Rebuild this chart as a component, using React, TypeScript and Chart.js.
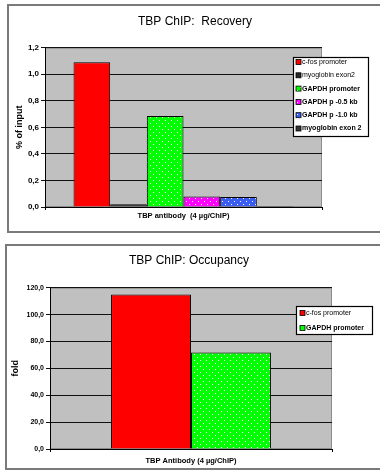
import React, { useEffect, useRef } from "react";
import { Chart, registerables } from "chart.js";

Chart.register(...registerables);

// ---------- data ----------
const recoveryCategories = ["TBP antibody  (4 µg/ChIP)"];
const recoverySeries = [
  "c-fos promoter",
  "myoglobin exon2",
  "GAPDH promoter",
  "GAPDH p -0.5 kb",
  "GAPDH p -1.0 kb",
  "myoglobin exon 2",
];
const cfosRecovery = [1.09];
const myoExon2Recovery = [0.02];
const gapdhPromoterRecovery = [0.685];
const gapdh05Recovery = [0.08];
const gapdh10Recovery = [0.075];
const myoExon2bRecovery = [0.008];
const recoveryTicks = [0, 0.2, 0.4, 0.6, 0.8, 1.0, 1.2];

const occupancyCategories = ["TBP Antibody (4 µg/ChIP)"];
const occupancySeries = ["c-fos promoter", "GAPDH promoter"];
const cfosOccupancy = [115];
const gapdhOccupancy = [71.7];
const occupancyTicks = [0, 20, 40, 60, 80, 100, 120];

// ---------- helpers ----------
const FONT = "'Liberation Sans', Arial, sans-serif";

function dotPattern(bg: string, dot: string) {
  const c = document.createElement("canvas");
  c.width = 6;
  c.height = 6;
  const x = c.getContext("2d")!;
  x.fillStyle = bg;
  x.fillRect(0, 0, 6, 6);
  x.fillStyle = dot;
  x.fillRect(1, 1, 1, 1);
  x.fillRect(4, 4, 1, 1);
  return x.createPattern(c, "repeat")!;
}

const commaFmt = (v: any) => Number(v).toFixed(1).replace(".", ",");

const plotBg = {
  id: "plotBg",
  beforeDraw(chart: any) {
    const { ctx, chartArea: a } = chart;
    ctx.save();
    ctx.fillStyle = "#c0c0c0";
    ctx.fillRect(a.left, a.top, a.right - a.left, a.bottom - a.top);
    ctx.strokeStyle = "#8c8c8c";
    ctx.lineWidth = 1;
    ctx.strokeRect(a.left + 0.5, a.top + 0.5, a.right - a.left - 1, a.bottom - a.top - 1);
    ctx.restore();
  },
};

const panelTitle = {
  id: "panelTitle",
  afterDraw(chart: any, _args: any, opts: any) {
    const { ctx } = chart;
    ctx.save();
    ctx.fillStyle = "#000";
    ctx.textAlign = "center";
    ctx.textBaseline = "middle";
    ctx.font = `normal 12px ${FONT}`;
    ctx.fillText(opts.text, opts.x, opts.y);
    ctx.restore();
  },
};

const boxLegend = {
  id: "boxLegend",
  afterDraw(chart: any, _args: any, opts: any) {
    const { ctx } = chart;
    ctx.save();
    ctx.fillStyle = "#ffffff";
    ctx.fillRect(opts.x, opts.y, opts.w, opts.h);
    ctx.strokeStyle = "#000000";
    ctx.lineWidth = 1.2;
    ctx.strokeRect(opts.x + 0.5, opts.y + 0.5, opts.w, opts.h);
    chart.data.datasets.forEach((ds: any, i: number) => {
      const cy = opts.firstRow + i * opts.rowStep;
      ctx.fillStyle = ds.backgroundColor;
      ctx.fillRect(opts.swatchX, cy - 2.5, 5, 5);
      ctx.strokeStyle = "#000";
      ctx.lineWidth = 0.8;
      ctx.strokeRect(opts.swatchX, cy - 2.5, 5, 5);
      ctx.fillStyle = "#000";
      ctx.textBaseline = "middle";
      ctx.textAlign = "left";
      ctx.font = `${opts.weights[i]} 7px ${FONT}`;
      ctx.fillText(ds.label, opts.textX, cy);
    });
    ctx.restore();
  },
};

function baseScales(ticks: number[], yTitle: string, yWidth: number, yTickFont: number, titlePad: number, xHeight: number, xPad: number) {
  return {
    x: {
      offset: true,
      grid: { display: true, drawOnChartArea: false, drawTicks: true, tickLength: 3, color: "#000" },
      border: { display: true, color: "#000", width: 1 },
      ticks: { color: "#000", padding: xPad, font: { family: FONT, size: 7.5, weight: "bold" } },
      afterFit: (s: any) => { s.height = xHeight; },
    },
    y: {
      min: ticks[0],
      max: ticks[ticks.length - 1],
      afterBuildTicks: (s: any) => { s.ticks = ticks.map((v) => ({ value: v })); },
      grid: { color: "#111", lineWidth: 1, tickLength: 4, drawTicks: true },
      border: { display: true, color: "#000", width: 1 },
      ticks: { color: "#000", padding: 2, callback: commaFmt, font: { family: FONT, size: yTickFont, weight: "bold" } },
      title: { display: true, text: yTitle, color: "#000", padding: { top: titlePad, bottom: 0 }, font: { family: FONT, size: 9, weight: "bold" } },
      afterFit: (s: any) => { s.width = yWidth; },
    },
  };
}

function RecoveryChart() {
  const ref = useRef<HTMLCanvasElement>(null);
  useEffect(() => {
    const green = dotPattern("#00ff00", "#ffffff");
    const magenta = dotPattern("#ff00ff", "#ffffff");
    const blue = dotPattern("#3a5cf0", "#ffffff");
    const colors: any[] = ["#ff0000", "#262626", green, magenta, blue, "#333333"];
    const values = [cfosRecovery, myoExon2Recovery, gapdhPromoterRecovery, gapdh05Recovery, gapdh10Recovery, myoExon2bRecovery];
    const chart = new Chart(ref.current!, {
      type: "bar",
      data: {
        labels: recoveryCategories,
        datasets: recoverySeries.map((label, i) => ({
          label,
          data: values[i],
          backgroundColor: colors[i],
          borderColor: "#000",
          borderWidth: 1,
          categoryPercentage: 0.794,
          barPercentage: 1,
        })),
      },
      options: {
        responsive: false,
        animation: false,
        devicePixelRatio: 1,
        layout: { padding: { left: 4, right: 58, top: 42.7, bottom: 2 } },
        plugins: {
          legend: { display: false },
          tooltip: { enabled: false },
          title: { display: false },
          panelTitle: { text: "TBP ChIP:  Recovery", x: 187, y: 17 },
          boxLegend: {
            x: 285, y: 52, w: 75, h: 79,
            firstRow: 57, rowStep: 13.3, swatchX: 288, textX: 294,
            weights: ["normal", "normal", "bold", "bold", "bold", "bold"],
          },
        } as any,
        scales: baseScales(recoveryTicks, "% of input", 33, 8, 2, 24, 1.5) as any,
      },
      plugins: [plotBg, boxLegend, panelTitle],
    });
    return () => chart.destroy();
  }, []);
  return <canvas ref={ref} width={372} height={228} style={{ position: "absolute", left: 8, top: 5, width: 372, height: 228 }} />;
}

function OccupancyChart() {
  const ref = useRef<HTMLCanvasElement>(null);
  useEffect(() => {
    const green = dotPattern("#00ff00", "#ffffff");
    const colors: any[] = ["#ff0000", green];
    const values = [cfosOccupancy, gapdhOccupancy];
    const chart = new Chart(ref.current!, {
      type: "bar",
      data: {
        labels: occupancyCategories,
        datasets: occupancySeries.map((label, i) => ({
          label,
          data: values[i],
          backgroundColor: colors[i],
          borderColor: "#000",
          borderWidth: 1,
          categoryPercentage: 0.567,
          barPercentage: 1,
        })),
      },
      options: {
        responsive: false,
        animation: false,
        devicePixelRatio: 1,
        layout: { padding: { left: 3, right: 48, top: 42.7, bottom: 2 } },
        plugins: {
          legend: { display: false },
          tooltip: { enabled: false },
          title: { display: false },
          panelTitle: { text: "TBP ChIP: Occupancy", x: 182, y: 16 },
          boxLegend: {
            x: 289, y: 61, w: 76, h: 28,
            firstRow: 68, rowStep: 15, swatchX: 293, textX: 299,
            weights: ["normal", "bold"],
          },
        } as any,
        scales: baseScales(occupancyTicks, "fold", 40, 7, 0, 18, 4) as any,
      },
      plugins: [plotBg, boxLegend, panelTitle],
    });
    return () => chart.destroy();
  }, []);
  return <canvas ref={ref} width={373} height={224} style={{ position: "absolute", left: 7, top: 245, width: 373, height: 224 }} />;
}

export default function App() {
  useEffect(() => {
    document.body.style.margin = "0";
    document.body.style.background = "#ffffff";
  }, []);
  return (
    <div style={{ position: "fixed", left: 0, top: 0, width: 380, height: 473, overflow: "hidden", background: "#fff" }}>
      <div style={{ position: "absolute", left: 7, top: 4, width: 380, height: 229, border: "2px solid #7a7a7a", boxSizing: "border-box" }} />
      <div style={{ position: "absolute", left: 5, top: 244, width: 380, height: 226, border: "2px solid #7a7a7a", boxSizing: "border-box" }} />
      <RecoveryChart />
      <OccupancyChart />
    </div>
  );
}
